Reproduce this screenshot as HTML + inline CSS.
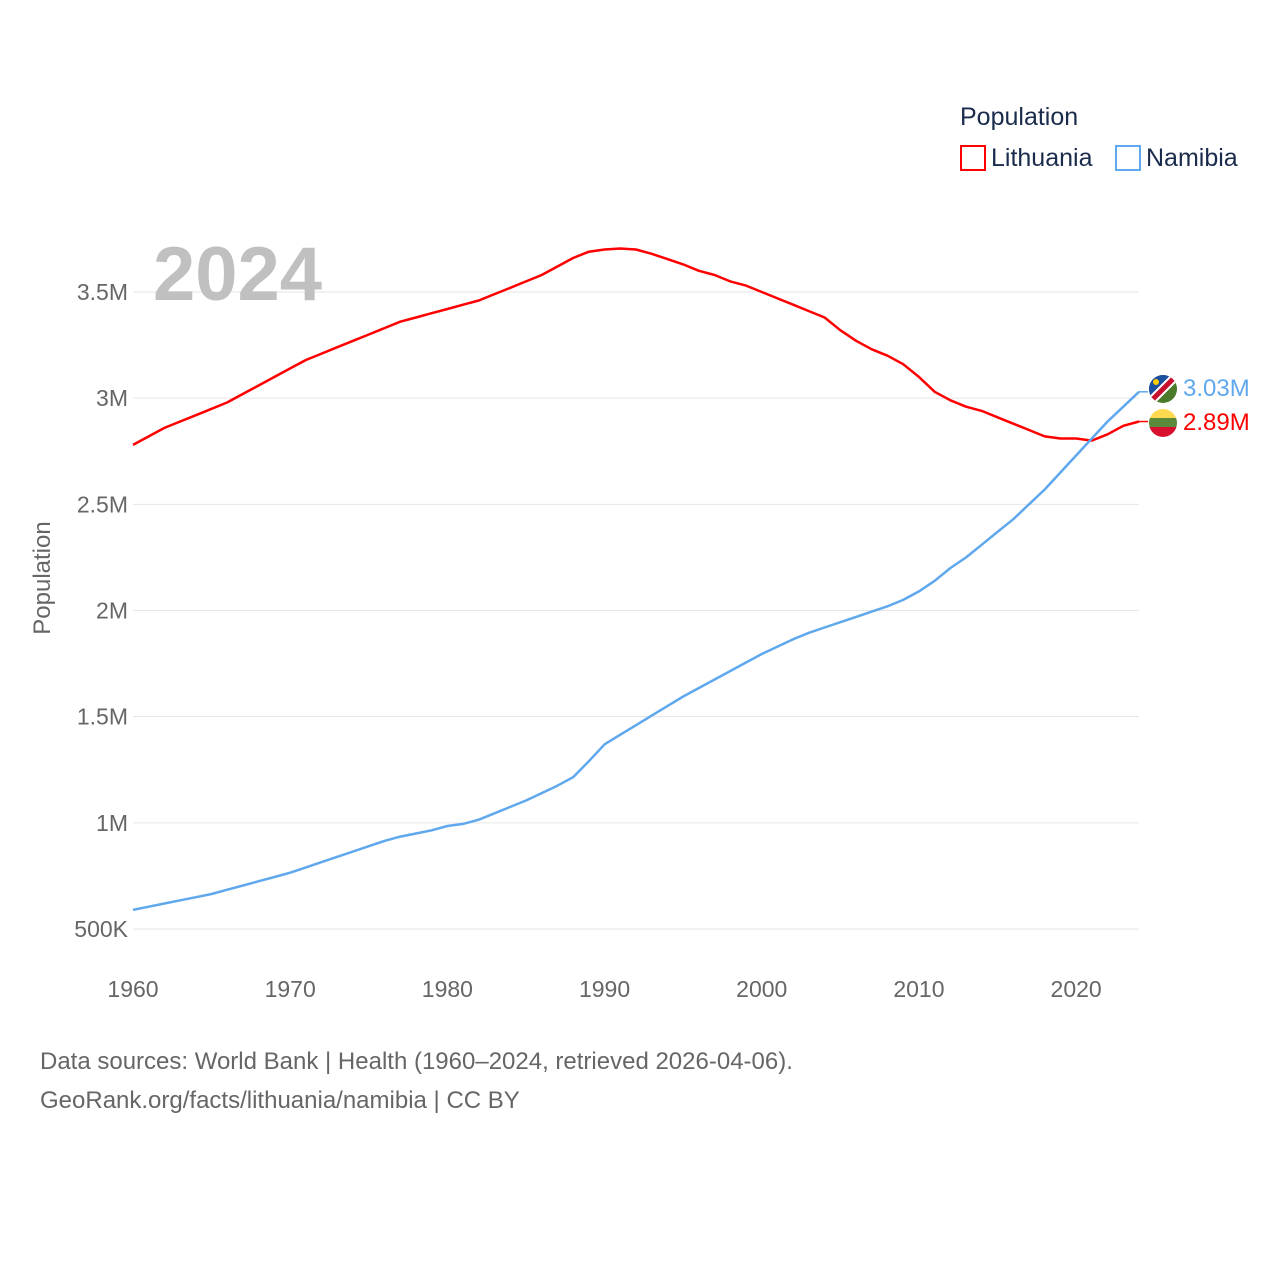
<!DOCTYPE html>
<html><head><meta charset="utf-8">
<style>
body{margin:0;background:#fff;font-family:"Liberation Sans",sans-serif;}
svg text{font-family:"Liberation Sans",sans-serif;}
</style></head>
<body>
<svg width="1280" height="1280" viewBox="0 0 1280 1280">
<g id="grid"></g>
<g id="yticks"></g>
<g id="xticks"></g>
<text x="153" y="300" font-size="76" font-weight="bold" fill="#c0c0c0">2024</text>
<text transform="translate(50,578) rotate(-90)" text-anchor="middle" font-size="24" fill="#666">Population</text>
<g id="series"></g>
<g>
<text x="960" y="125" font-size="25" fill="#1a2b4c">Population</text>
<g><rect x="961" y="146" width="24" height="24" fill="none" stroke="#f00" stroke-width="2"/><text x="991" y="166" font-size="25" fill="#1a2b4c">Lithuania</text></g>
<g><rect x="1116" y="146" width="24" height="24" fill="none" stroke="#5fa8ee" stroke-width="2"/><text x="1146" y="166" font-size="25" fill="#1a2b4c">Namibia</text></g>
</g>
<g>
<clipPath id="c1"><circle cx="1163" cy="389" r="14"/></clipPath>
<g clip-path="url(#c1)"><rect x="1149" y="375" width="28" height="28" fill="#4a7a2a"/><polygon points="1149,375 1177,375 1149,403" fill="#1d4fa0"/><line x1="1177" y1="375" x2="1149" y2="403" stroke="#fff" stroke-width="9"/><line x1="1177" y1="375" x2="1149" y2="403" stroke="#c8102e" stroke-width="5"/><circle cx="1156" cy="382" r="3" fill="#ffce00"/></g>
</g>
<g>
<clipPath id="c2"><circle cx="1163" cy="423" r="14"/></clipPath>
<g clip-path="url(#c2)"><rect x="1149" y="409" width="28" height="10" fill="#fdd950"/><rect x="1149" y="418" width="28" height="10" fill="#5b8a3a"/><rect x="1149" y="427" width="28" height="10" fill="#d8102e"/></g>
</g>
<text x="1183" y="396" font-size="24" fill="#5fa8ee">3.03M</text>
<text x="1183" y="430" font-size="24" fill="#f00">2.89M</text>
<text x="40" y="1069" font-size="24" fill="#666">Data sources: World Bank | Health (1960–2024, retrieved 2026-04-06).</text>
<text x="40" y="1108" font-size="24" fill="#666">GeoRank.org/facts/lithuania/namibia | CC BY</text>
</svg>
<script>
const years=[];for(let y=1960;y<=2024;y++)years.push(y);
const lithuania=[2.78,2.82,2.86,2.89,2.92,2.95,2.98,3.02,3.06,3.10,3.14,3.18,3.21,3.24,3.27,3.30,3.33,3.36,3.38,3.40,3.42,3.44,3.46,3.49,3.52,3.55,3.58,3.62,3.66,3.69,3.70,3.705,3.70,3.68,3.655,3.63,3.60,3.58,3.55,3.53,3.50,3.47,3.44,3.41,3.38,3.32,3.27,3.23,3.20,3.16,3.10,3.03,2.99,2.96,2.94,2.91,2.88,2.85,2.82,2.81,2.81,2.80,2.83,2.87,2.89];
const namibia=[0.59,0.605,0.62,0.635,0.65,0.665,0.685,0.705,0.725,0.745,0.765,0.79,0.815,0.84,0.865,0.89,0.915,0.935,0.95,0.965,0.985,0.995,1.015,1.045,1.075,1.105,1.14,1.175,1.215,1.29,1.37,1.415,1.46,1.505,1.55,1.595,1.635,1.675,1.715,1.755,1.795,1.83,1.865,1.895,1.92,1.945,1.97,1.995,2.02,2.05,2.09,2.14,2.20,2.25,2.31,2.37,2.43,2.50,2.57,2.65,2.73,2.81,2.89,2.96,3.03];
const yTickVals=[0.5,1,1.5,2,2.5,3,3.5];
const yTickLabels=["500K","1M","1.5M","2M","2.5M","3M","3.5M"];
const xTickVals=[1960,1970,1980,1990,2000,2010,2020];
const X=yr=>133+(yr-1960)*(1139-133)/64;
const Y=v=>929-(v-0.5)*212.33;
const NS="http://www.w3.org/2000/svg";
const mk=(t,a,p)=>{const e=document.createElementNS(NS,t);for(const k in a)e.setAttribute(k,a[k]);p.appendChild(e);return e;};
const grid=document.getElementById('grid'),yt=document.getElementById('yticks'),xt=document.getElementById('xticks'),ser=document.getElementById('series');
yTickVals.forEach((v,i)=>{
 const l=mk('line',{x1:133,x2:1139,y1:Y(v),y2:Y(v),stroke:'#e6e6e6','stroke-width':1},grid);
 
 
 const t=mk('text',{x:128,y:Y(v)+8,'text-anchor':'end','font-size':23,fill:'#666'},yt);
 t.textContent=yTickLabels[i];
 
 
});
xTickVals.forEach(v=>{
 const t=mk('text',{x:X(v),y:997,'text-anchor':'middle','font-size':23,fill:'#666'},xt);
 t.textContent=v;
 
 
});
function line(vals,color,name){
 const d=vals.map((v,i)=>(i?'L':'M')+X(years[i]).toFixed(1)+','+Y(v).toFixed(1)).join('');
 const p=mk('path',{d:d,fill:'none',stroke:color,'stroke-width':2.5,'stroke-linejoin':'round'},ser);
 
 
 const last=vals[vals.length-1];
 const c=mk('line',{x1:X(2024),x2:1148,y1:Y(last),y2:Y(last),stroke:color,'stroke-width':1.5},ser);
 
 
}
line(lithuania,'#f00','lithuania-line');
line(namibia,'#5fa8ee','namibia-line');
</script>
</body></html>
